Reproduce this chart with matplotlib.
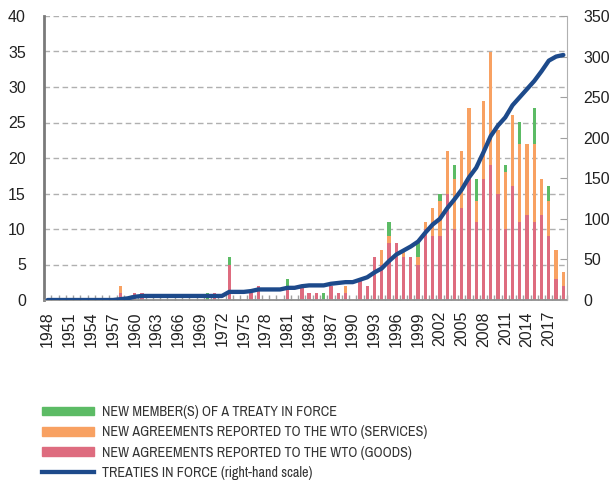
import numpy as np
import matplotlib
matplotlib.use("Agg")
import matplotlib.pyplot as plt
from matplotlib import font_manager
from matplotlib.patches import Patch
from matplotlib.lines import Line2D

plt.rcParams['font.family'] = ['Liberation Sans', 'DejaVu Sans']

years = list(range(1948, 2020))

# new agreements reported to the WTO (goods), one value per year
goods = [0, 0, 0, 0, 0, 0, 0, 0, 0, 0,
         1, 0, 1, 1, 0, 0, 0, 0, 0, 0,
         0, 0, 0, 1, 0, 5, 0, 0, 1, 2,
         0, 0, 0, 2, 0, 2, 1, 1, 0, 2,
         1, 1, 0, 3, 2, 6, 5, 8, 8, 6,
         6, 5, 10, 9, 9, 15, 10, 13, 17, 11,
         17, 19, 15, 10, 16, 11, 12, 11, 12, 9,
         3, 2]
# new agreements reported to the WTO (services)
services = [0, 0, 0, 0, 0, 0, 0, 0, 0, 0,
            1, 0, 0, 0, 0, 0, 0, 0, 0, 0,
            0, 0, 0, 0, 0, 0, 0, 0, 0, 0,
            0, 0, 0, 0, 0, 0, 0, 0, 0, 0,
            0, 1, 0, 0, 0, 0, 2, 1, 0, 1,
            0, 1, 1, 4, 5, 6, 7, 8, 10, 3,
            11, 16, 9, 8, 10, 11, 10, 11, 5, 5,
            4, 2]
# new member(s) of a treaty in force
members = [0, 0, 0, 0, 0, 0, 0, 0, 0, 0,
           0, 0, 0, 0, 0, 0, 0, 0, 0, 0,
           0, 0, 1, 0, 0, 1, 0, 0, 0, 0,
           0, 0, 0, 1, 0, 0, 0, 0, 1, 0,
           0, 0, 0, 0, 0, 0, 0, 2, 0, 0,
           0, 2, 0, 0, 1, 0, 2, 0, 0, 3,
           0, 0, 0, 1, 0, 3, 0, 5, 0, 2,
           0, 0]
# treaties in force (right-hand scale)
in_force = [0, 0, 0, 0, 0, 0, 0, 0, 0, 0,
            1, 2, 4, 5, 5, 5, 5, 5, 5, 5,
            5, 5, 5, 5, 5, 10, 10, 10, 11, 13,
            13, 13, 13, 15, 15, 17, 18, 18, 18, 20,
            21, 22, 22, 25, 28, 34, 39, 48, 56, 61,
            66, 72, 83, 93, 100, 113, 124, 136, 151, 163,
            182, 202, 215, 225, 240, 250, 260, 270, 282, 295,
            300, 302]

legend_labels = ['NEW MEMBER(S) OF A TREATY IN FORCE',
                 'NEW AGREEMENTS REPORTED TO THE WTO (SERVICES)',
                 'NEW AGREEMENTS REPORTED TO THE WTO (GOODS)',
                 'TREATIES IN FORCE (right-hand scale)']

c_goods = '#DE6C7F'
c_serv = '#F8A162'
c_memb = '#5CBB65'
c_line = '#1D4A8B'

# narrow face for the legend if there is one
have = set(f.name for f in font_manager.fontManager.ttflist)
if 'Archivo Narrow' in have:
    leg_font = {'family': ['Archivo Narrow', 'Liberation Sans'], 'size': 10.2}
else:
    leg_font = {'family': ['Liberation Sans'], 'size': 8.5}

x = np.array(years)
g = np.array(goods)
s = np.array(services)
m = np.array(members)

fig = plt.figure(figsize=(6.13, 4.82), dpi=100)
ax = fig.add_axes([44/613, 1-300/482, 523/613, 284/482])

w = 0.45
ax.bar(x, g, width=w, color=c_goods, zorder=2)
ax.bar(x, s, width=w, bottom=g, color=c_serv, zorder=2)
ax.bar(x, m, width=w, bottom=g+s, color=c_memb, zorder=2)

ax.set_xlim(1947.5, 2019.5)
ax.set_ylim(0, 40)
ax.set_yticks(range(0, 41, 5))
ax.yaxis.grid(True, color='#b0b0b0', linestyle=(0, (4, 2.5)), linewidth=1.0, zorder=0)
ax.set_axisbelow(True)

ax.set_xticks(range(1948, 2018, 3))
ax.set_xticklabels([str(y) for y in range(1948, 2018, 3)], rotation=90, fontsize=11.5)
ax.set_xticks(np.arange(1947.5, 2020, 1), minor=True)
ax.tick_params(axis='x', which='major', length=0, pad=8, labelcolor='#222222')
ax.tick_params(axis='x', which='minor', direction='in', length=3.5, color='#a0a0a0', width=1)
ax.tick_params(axis='y', length=0, pad=13, labelsize=11.5, labelcolor='#222222')

for sp in ['top', 'right']:
    ax.spines[sp].set_visible(False)
ax.spines['left'].set_color('#7a7a7a')
ax.spines['left'].set_linewidth(2)
ax.spines['bottom'].set_color('#909090')
ax.spines['bottom'].set_linewidth(1.3)

# line on the right-hand scale
ax2 = ax.twinx()
ax2.plot(x, in_force, color=c_line, linewidth=3.1, zorder=3, solid_capstyle='round')
ax2.set_ylim(0, 350)
ax2.set_yticks(range(0, 351, 50))
ax2.tick_params(axis='y', direction='in', length=5, color='#a0a0a0', pad=12,
                labelsize=11.5, labelcolor='#222222')
for sp in ['top', 'left', 'bottom']:
    ax2.spines[sp].set_visible(False)
ax2.spines['right'].set_color('#b0b0b0')
ax2.spines['right'].set_linewidth(0.8)

handles = [Patch(color=c_memb), Patch(color=c_serv), Patch(color=c_goods),
           Line2D([], [], color=c_line, linewidth=3.1)]
leg = fig.legend(handles, legend_labels, loc='upper left', bbox_to_anchor=(42/613, 1-405/482),
                 frameon=False, borderpad=0, borderaxespad=0, handlelength=3.7,
                 handleheight=0.55, handletextpad=0.5, labelspacing=0.45, prop=leg_font)
for t in leg.get_texts():
    t.set_color('#333333')

fig.savefig('out.png', dpi=100)
